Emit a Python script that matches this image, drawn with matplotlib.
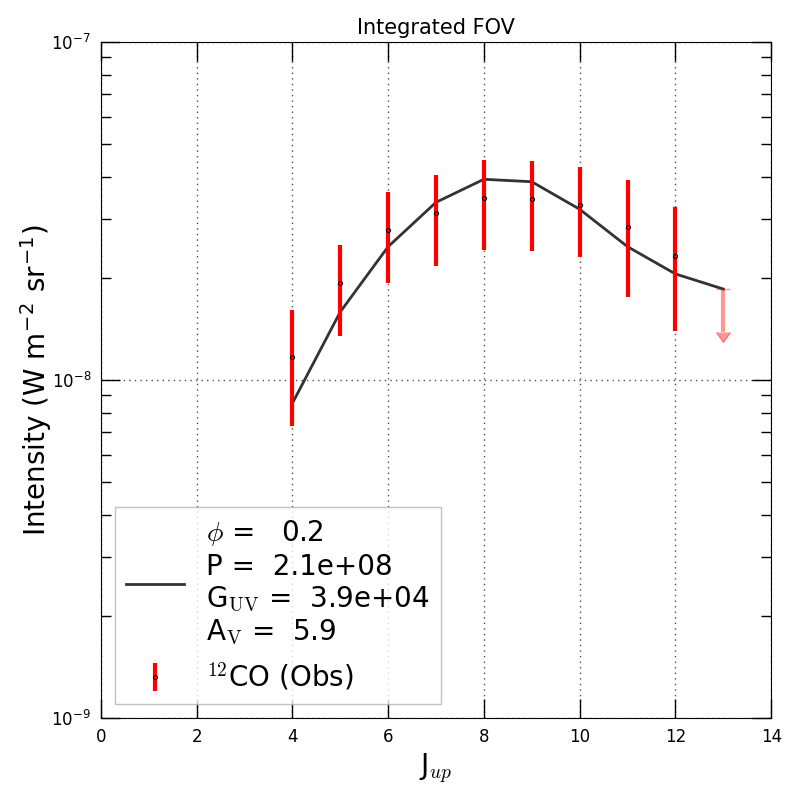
import matplotlib
matplotlib.use('Agg')
import matplotlib.pyplot as plt
import numpy as np

plt.rcParams['mathtext.fontset'] = 'cm'

# observed 12CO lines (W m-2 sr-1)
j_obs = [4, 5, 6, 7, 8, 9, 10, 11, 12]
i_obs = [1.17e-8, 1.93e-8, 2.77e-8, 3.11e-8, 3.45e-8, 3.42e-8, 3.29e-8, 2.83e-8, 2.32e-8]
e_obs = [0.44e-8, 0.58e-8, 0.84e-8, 0.93e-8, 1.03e-8, 1.02e-8, 0.98e-8, 1.07e-8, 0.92e-8]

# upper limit
j_ul = [13]
i_ul = [1.86e-8]
e_ul = [0.47e-8]

# best fit model
j_mod = [4, 5, 6, 7, 8, 9, 10, 11, 12, 13]
i_mod = [0.853e-8, 1.59e-8, 2.48e-8, 3.355e-8, 3.925e-8, 3.86e-8, 3.2e-8, 2.48e-8, 2.06e-8, 1.858e-8]

fig = plt.figure(figsize=(8, 8), dpi=100)
ax = fig.add_axes([0.126, 0.1025, 0.838, 0.845])

lab = ('$\\phi$ =   0.2\n'
       'P =  2.1e+08\n'
       'G$_{\\rm UV}$ =  3.9e+04\n'
       'A$_{\\rm V}$ =  5.9')
ax.plot(j_mod, i_mod, color='k', alpha=0.8, lw=2, label=lab)
ax.errorbar(j_obs, i_obs, yerr=e_obs, fmt='o', color='red', ecolor='red', elinewidth=3,
            mfc='none', mec='k', ms=3, mew=0.7, capsize=0, label='$^{12}$CO (Obs)')
ax.errorbar(j_ul, i_ul, yerr=[e_ul, [0]], uplims=True, fmt='none', color='red', ecolor='red',
            elinewidth=3, capsize=5, alpha=0.4)

ax.set_yscale('log')
ax.set_xlim(0, 14)
ax.set_ylim(1e-9, 1e-7)
ax.set_xticks(np.arange(0, 15, 2))
ax.grid(True, which='major', color='0.3', linestyle=(0, (1, 3)), lw=1)
ax.tick_params(which='both', direction='in', top=True, right=True, labelsize=12)
ax.tick_params(which='major', length=14, width=1, pad=7)
ax.tick_params(which='minor', length=7, width=1)
ax.tick_params(axis='x', which='minor', bottom=False, top=False)

ax.set_title('Integrated FOV', fontsize=15)
ax.set_xlabel('J$_{up}$', fontsize=20)
ax.set_ylabel('Intensity (W m$^{\\mathdefault{-2}}$ sr$^{\\mathdefault{-1}}$)', fontsize=20,
              labelpad=-2)

leg = ax.legend(loc='lower left', fontsize=20, fancybox=False, handlelength=2.1,
                numpoints=1, labelspacing=0.5)
leg.get_frame().set_edgecolor('0.7')

plt.savefig('out.png', dpi=100)
